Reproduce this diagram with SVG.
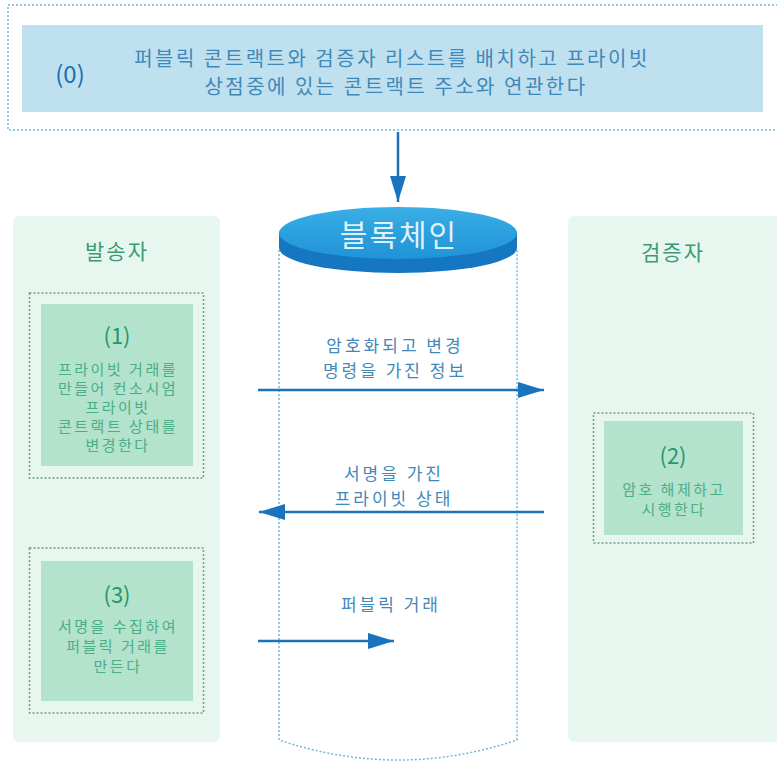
<svg xmlns="http://www.w3.org/2000/svg" width="777" height="762" viewBox="0 0 777 762">
<defs>
<style>
text{font-family:"Noto Sans CJK KR","Noto Sans",sans-serif;text-anchor:middle;dominant-baseline:central}
.panel{fill:#e7f7ef}
.dash{fill:none;stroke:#6e9c8c;stroke-width:1.5;stroke-dasharray:2 2}
.inner{fill:#b3e2cd}
.title{font-size:21px;fill:#3a9c74;letter-spacing:2px}
.num{font-size:22px;fill:#25986a}
.gt{font-size:15px;fill:#4bae86;letter-spacing:2.5px}
.lbl{font-size:17px;fill:#3f88b8;letter-spacing:3px}
.top{font-size:20px;fill:#3f88b8;letter-spacing:2.5px}
.conn{stroke:#1b73bd;stroke-width:2.5;fill:none}
.bdash{fill:none;stroke:#72b6d6;stroke-width:1.5;stroke-dasharray:2 2}
</style>
<marker id="ah" viewBox="0 0 10 10" refX="10" refY="5" markerWidth="26" markerHeight="16" markerUnits="userSpaceOnUse" orient="auto" preserveAspectRatio="none">
<path d="M0,0 L10,5 L0,10 Z" fill="#1b73bd"/>
</marker>
<linearGradient id="topg" x1="0" y1="0" x2="0" y2="1">
<stop offset="0" stop-color="#3aaee6"/>
<stop offset="1" stop-color="#1f93d6"/>
</linearGradient>
</defs>

<g id="node0">
<rect x="8" y="5" width="775" height="125" class="bdash"/>
<rect x="22" y="25" width="741" height="87" fill="#bfe0ef"/>
<text x="70" y="72" style="font-size:24px;fill:#1a6fae">(0)</text>
<text x="392" y="57" class="top">퍼블릭 콘트랙트와 검증자 리스트를 배치하고 프라이빗</text>
<text x="396" y="85" class="top">상점중에 있는 콘트랙트 주소와 연관한다</text>
</g>

<g id="blockchain">
<path d="M279,250 L279,740 Q398,780 517,740 L517,250" class="bdash"/>
<path d="M279,233 L279,248 A119,25 0 0 0 517,248 L517,233 Z" fill="#1576c2"/>
<ellipse cx="398" cy="233" rx="119" ry="26" fill="url(#topg)"/>
<text x="399" y="233" style="font-size:30px;fill:#dff1fb;letter-spacing:2px">블록체인</text>
</g>

<g id="sender">
<rect x="13" y="216" width="207" height="526" rx="6" class="panel"/>
<text x="117" y="250" class="title">발송자</text>
</g>

<g id="validator">
<rect x="568" y="216" width="215" height="526" rx="6" class="panel"/>
<text x="673" y="251" class="title">검증자</text>
</g>

<g id="step1">
<rect x="29.5" y="293" width="174" height="185" class="dash"/>
<rect x="41" y="304" width="152" height="162" class="inner"/>
<text x="117" y="334" class="num">(1)</text>
<text x="118" y="368" class="gt">프라이빗 거래를</text>
<text x="118" y="387" class="gt">만들어 컨소시엄</text>
<text x="118" y="406" class="gt">프라이빗</text>
<text x="118" y="425" class="gt">콘트랙트 상태를</text>
<text x="118" y="444" class="gt">변경한다</text>
</g>

<g id="step2">
<rect x="593.5" y="413" width="160" height="130" class="dash"/>
<rect x="604" y="421" width="139" height="114" class="inner"/>
<text x="673" y="454" class="num">(2)</text>
<text x="674" y="488" class="gt">암호 해제하고</text>
<text x="674" y="508" class="gt">시행한다</text>
</g>

<g id="step3">
<rect x="29.5" y="548" width="174" height="165" class="dash"/>
<rect x="41" y="561" width="152" height="140" class="inner"/>
<text x="117" y="593" class="num">(3)</text>
<text x="118" y="625" class="gt">서명을 수집하여</text>
<text x="118" y="645" class="gt">퍼블릭 거래를</text>
<text x="118" y="665" class="gt">만든다</text>
</g>

<g id="connectors">
<line x1="398" y1="132" x2="398" y2="202" class="conn" marker-end="url(#ah)"/>
<line x1="258" y1="390" x2="544" y2="390" class="conn" marker-end="url(#ah)"/>
<text x="395" y="344" class="lbl">암호화되고 변경</text>
<text x="395" y="369" class="lbl">명령을 가진 정보</text>
<line x1="544" y1="512" x2="259" y2="512" class="conn" marker-end="url(#ah)"/>
<text x="394" y="472" class="lbl">서명을 가진</text>
<text x="394" y="497" class="lbl">프라이빗 상태</text>
<line x1="258" y1="641" x2="394" y2="641" class="conn" marker-end="url(#ah)"/>
<text x="391" y="603" class="lbl">퍼블릭 거래</text>
</g>
</svg>
